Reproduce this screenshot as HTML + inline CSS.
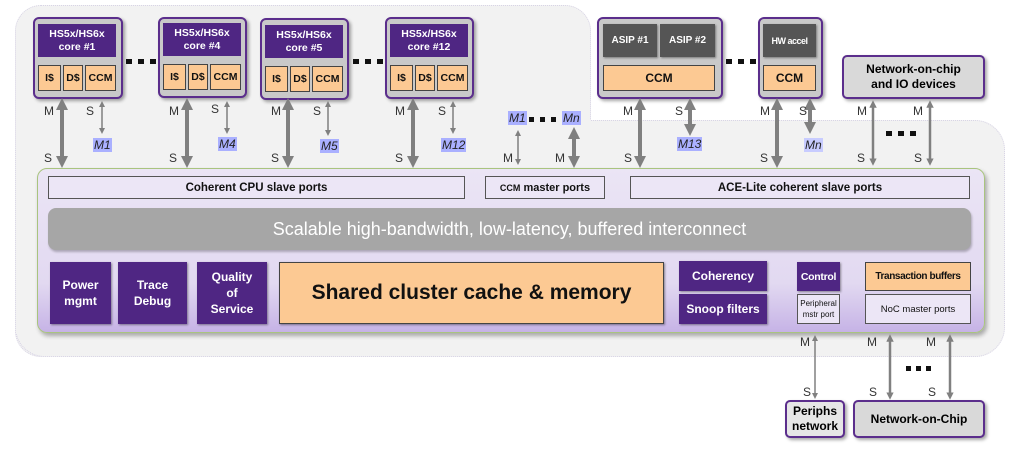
<!DOCTYPE html>
<html><head><meta charset="utf-8"><style>
body{margin:0;width:1024px;height:455px;background:#fff;position:relative;overflow:hidden;font-family:"Liberation Sans",Arial,sans-serif}
div{position:absolute;box-sizing:border-box}
.bg{background:#f2f2f2;border:1px dotted #d8d4e6;border-radius:26px}
.core{background:#c9c9c9;border:2px solid #5b2e8c;border-radius:6px;box-shadow:2px 2px 3px rgba(0,0,0,.35)}
.ph{background:#4f2683;color:#fff;font-weight:bold;font-size:10.5px;text-align:center;display:flex;align-items:center;justify-content:center;line-height:13px}
.or{background:#fcc993;border:1px solid #444;font-weight:bold;font-size:10.5px;display:flex;align-items:center;justify-content:center;color:#111;white-space:nowrap}
.dg{background:#555;color:#fff;font-weight:bold;font-size:10px;display:flex;align-items:center;justify-content:center;box-shadow:1px 1px 2px rgba(0,0,0,.4)}
.port{border:1px solid #555;background:#ece6f6;font-weight:bold;font-size:11.5px;display:flex;align-items:center;justify-content:center;color:#111}
.pb{background:#4f2683;color:#fff;font-weight:bold;font-size:12px;display:flex;align-items:center;justify-content:center;text-align:center;line-height:16px;box-shadow:1px 1px 2px rgba(0,0,0,.4)}
.gb{background:#d9d9d9;border:2px solid #5b2e8c;border-radius:5px;font-weight:bold;font-size:12px;display:flex;align-items:center;justify-content:center;text-align:center;line-height:15px;box-shadow:2px 2px 3px rgba(0,0,0,.35)}
.ml{background:#aab0ff;font-style:italic;font-size:12px;color:#222;padding:0 1px;line-height:14px}
</style></head><body>
<div class="bg" style="left:15px;top:5px;width:576px;height:352px"></div>
<div class="bg" style="left:15px;top:120px;width:990px;height:237px;border-radius:30px"></div>
<div style="left:16px;top:119px;width:574px;height:215px;background:#f2f2f2"></div>

<!-- cores -->
<div class="core" style="left:33px;top:17px;width:90px;height:82px"></div>
<div class="ph" style="left:38px;top:24px;width:78px;height:33px">HS5x/HS6x<br>core #1</div>
<div class="or" style="left:38px;top:65px;width:23px;height:26px">I$</div>
<div class="or" style="left:63px;top:65px;width:20px;height:26px">D$</div>
<div class="or" style="left:85px;top:65px;width:31px;height:26px">CCM</div>

<div class="core" style="left:158px;top:17px;width:89px;height:81px"></div>
<div class="ph" style="left:163px;top:23px;width:78px;height:33px">HS5x/HS6x<br>core #4</div>
<div class="or" style="left:163px;top:64px;width:23px;height:26px">I$</div>
<div class="or" style="left:188px;top:64px;width:20px;height:26px">D$</div>
<div class="or" style="left:210px;top:64px;width:31px;height:26px">CCM</div>

<div class="core" style="left:260px;top:18px;width:89px;height:82px"></div>
<div class="ph" style="left:265px;top:25px;width:78px;height:33px">HS5x/HS6x<br>core #5</div>
<div class="or" style="left:265px;top:66px;width:23px;height:26px">I$</div>
<div class="or" style="left:290px;top:66px;width:20px;height:26px">D$</div>
<div class="or" style="left:312px;top:66px;width:31px;height:26px">CCM</div>

<div class="core" style="left:385px;top:17px;width:89px;height:82px"></div>
<div class="ph" style="left:390px;top:24px;width:78px;height:33px">HS5x/HS6x<br>core #12</div>
<div class="or" style="left:390px;top:65px;width:23px;height:26px">I$</div>
<div class="or" style="left:415px;top:65px;width:20px;height:26px">D$</div>
<div class="or" style="left:437px;top:65px;width:31px;height:26px">CCM</div>

<!-- ASIP -->
<div class="core" style="left:597px;top:17px;width:126px;height:82px"></div>
<div class="dg" style="left:603px;top:24px;width:54px;height:33px">ASIP #1</div>
<div class="dg" style="left:660px;top:24px;width:55px;height:33px">ASIP #2</div>
<div class="or" style="left:603px;top:65px;width:112px;height:26px;font-size:12px">CCM</div>
<div class="core" style="left:758px;top:17px;width:65px;height:82px"></div>
<div class="dg" style="left:763px;top:24px;width:53px;height:33px;font-size:9px;letter-spacing:-.5px">HW accel</div>
<div class="or" style="left:763px;top:65px;width:53px;height:26px;font-size:12px">CCM</div>
<div class="gb" style="left:842px;top:55px;width:143px;height:44px">Network-on-chip<br>and IO devices</div>

<!-- cluster -->
<div style="left:37px;top:168px;width:948px;height:165px;border:1.5px solid #a9c47f;border-radius:10px;background:linear-gradient(#ebe5f5,#e2d9f1 70%,#c6b3e6);box-shadow:2px 3px 4px rgba(0,0,0,.3)"></div>
<div class="port" style="left:48px;top:176px;width:417px;height:23px">Coherent CPU slave ports</div>
<div class="port" style="left:485px;top:176px;width:120px;height:23px;font-size:11px"><span style="font-size:9px">CCM</span>&nbsp;master ports</div>
<div class="port" style="left:630px;top:176px;width:340px;height:23px">ACE-Lite coherent slave ports</div>
<div style="left:48px;top:208px;width:923px;height:42px;background:#a6a6a6;border-radius:8px;color:#fff;font-size:18px;display:flex;align-items:center;justify-content:center;box-shadow:1px 2px 2px rgba(0,0,0,.25)">Scalable high-bandwidth, low-latency, buffered interconnect</div>
<div class="pb" style="left:50px;top:262px;width:61px;height:62px">Power<br>mgmt</div>
<div class="pb" style="left:118px;top:262px;width:69px;height:62px">Trace<br>Debug</div>
<div class="pb" style="left:197px;top:262px;width:70px;height:62px">Quality<br>of<br>Service</div>
<div class="or" style="left:279px;top:262px;width:385px;height:62px;font-size:21px;box-shadow:1px 1px 2px rgba(0,0,0,.4)">Shared cluster cache &amp; memory</div>
<div class="pb" style="left:679px;top:261px;width:88px;height:30px">Coherency</div>
<div class="pb" style="left:679px;top:294px;width:88px;height:30px">Snoop filters</div>
<div class="pb" style="left:797px;top:262px;width:43px;height:29px;font-size:10.5px;letter-spacing:-.3px">Control</div>
<div class="or" style="left:865px;top:262px;width:106px;height:29px;font-size:10px;letter-spacing:-.4px">Transaction buffers</div>
<div class="port" style="left:797px;top:294px;width:43px;height:30px;font-size:8px;line-height:11px;text-align:center;font-weight:normal">Peripheral<br>mstr port</div>
<div class="port" style="left:865px;top:294px;width:106px;height:30px;font-size:9.5px;font-weight:normal">NoC master ports</div>

<!-- bottom boxes -->
<div class="gb" style="left:785px;top:400px;width:60px;height:38px;background:#e6e6e6">Periphs<br>network</div>
<div class="gb" style="left:853px;top:400px;width:132px;height:38px">Network-on-Chip</div>

<!-- labels -->
<div class="ml" style="left:93px;top:138px">M1</div>
<div class="ml" style="left:218px;top:137px">M4</div>
<div class="ml" style="left:320px;top:139px">M5</div>
<div class="ml" style="left:441px;top:138px">M12</div>
<div class="ml" style="left:508px;top:111px">M1</div>
<div class="ml" style="left:562px;top:111px">Mn</div>
<div class="ml" style="left:677px;top:137px">M13</div>
<div class="ml" style="left:804px;top:138px;background:#c8ccff">Mn</div>

<svg width="1024" height="455" style="position:absolute;left:0;top:0" font-family="Liberation Sans,Arial,sans-serif" font-size="12" fill="#333">
<defs>
<marker id="a" viewBox="0 0 10 10" refX="5" refY="5" markerWidth="3" markerHeight="3" orient="auto-start-reverse"><path d="M0,0L10,5L0,10z" fill="#808080"/></marker>
<marker id="b" viewBox="0 0 10 10" refX="5" refY="5" markerWidth="4" markerHeight="4" orient="auto-start-reverse"><path d="M0,0L10,5L0,10z" fill="#808080"/></marker>
</defs>
<g stroke="#808080" fill="none">
<g stroke-width="4" marker-start="url(#a)" marker-end="url(#a)">
<line x1="62" y1="104" x2="62" y2="162"/><line x1="187" y1="104" x2="187" y2="162"/><line x1="288" y1="104" x2="288" y2="162"/><line x1="413" y1="104" x2="413" y2="162"/>
<line x1="574" y1="133" x2="574" y2="162"/>
<line x1="640" y1="104" x2="640" y2="162"/><line x1="690" y1="104" x2="690" y2="130"/>
<line x1="777" y1="104" x2="777" y2="162"/><line x1="810" y1="104" x2="810" y2="128"/>
</g>
<g stroke-width="1.5" marker-start="url(#b)" marker-end="url(#b)">
<line x1="102" y1="104" x2="102" y2="131"/><line x1="227" y1="104" x2="227" y2="131"/><line x1="328" y1="104" x2="328" y2="133"/><line x1="453" y1="104" x2="453" y2="131"/>
<line x1="518" y1="133" x2="518" y2="162"/>
<line x1="815" y1="338" x2="815" y2="396"/>
</g>
<g stroke-width="2.5" marker-start="url(#a)" marker-end="url(#a)">
<line x1="873" y1="104" x2="873" y2="162"/><line x1="930" y1="104" x2="930" y2="162"/>
<line x1="890" y1="338" x2="890" y2="396"/><line x1="950" y1="338" x2="950" y2="396"/>
</g>
</g>
<g fill="#111">
<rect x="126" y="59" width="6" height="5"/><rect x="138" y="59" width="6" height="5"/><rect x="150" y="59" width="6" height="5"/>
<rect x="353" y="59" width="6" height="5"/><rect x="365" y="59" width="6" height="5"/><rect x="377" y="59" width="6" height="5"/>
<rect x="529" y="117" width="5" height="5"/><rect x="540" y="117" width="5" height="5"/><rect x="551" y="117" width="5" height="5"/>
<rect x="726" y="59" width="6" height="5"/><rect x="738" y="59" width="6" height="5"/><rect x="750" y="59" width="6" height="5"/>
<rect x="886" y="131" width="6" height="5"/><rect x="898" y="131" width="6" height="5"/><rect x="910" y="131" width="6" height="5"/>
<rect x="906" y="366" width="5" height="5"/><rect x="916" y="366" width="5" height="5"/><rect x="926" y="366" width="5" height="5"/>
</g>
<g>
<text x="44" y="115">M</text><text x="44" y="162">S</text><text x="86" y="115">S</text>
<text x="169" y="115">M</text><text x="169" y="162">S</text><text x="211" y="113">S</text>
<text x="271" y="115">M</text><text x="271" y="162">S</text><text x="313" y="115">S</text>
<text x="395" y="115">M</text><text x="395" y="162">S</text><text x="438" y="115">S</text>
<text x="503" y="162">M</text><text x="555" y="162">M</text>
<text x="623" y="115">M</text><text x="624" y="162">S</text><text x="675" y="115">S</text>
<text x="760" y="115">M</text><text x="760" y="162">S</text><text x="799" y="115">S</text>
<text x="857" y="115">M</text><text x="857" y="162">S</text><text x="913" y="115">M</text><text x="914" y="162">S</text>
<text x="800" y="346">M</text><text x="803" y="396">S</text>
<text x="867" y="346">M</text><text x="869" y="396">S</text><text x="926" y="346">M</text><text x="928" y="396">S</text>
</g>
</svg>
</body></html>
